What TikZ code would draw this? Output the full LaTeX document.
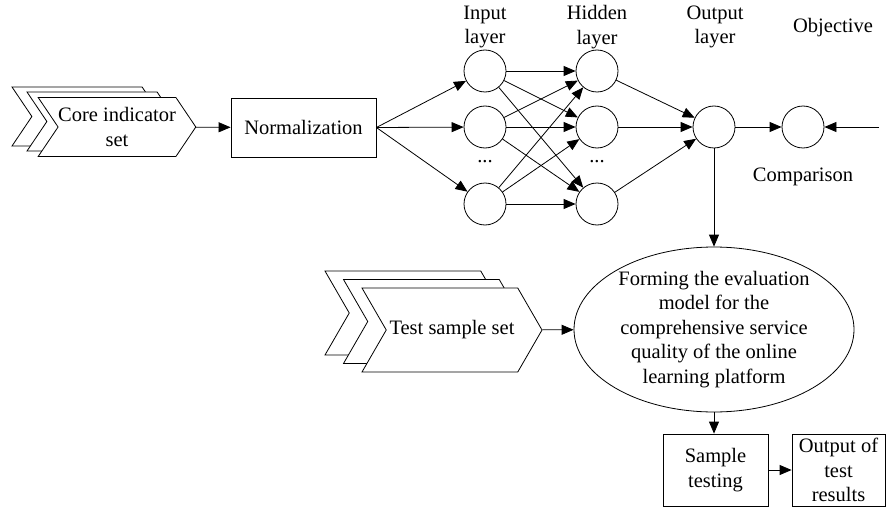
\documentclass[tikz,border=0pt]{standalone}
\usepackage{fontspec}
\setmainfont{Liberation Serif}
\usetikzlibrary{arrows.meta,shapes.symbols,shapes.geometric,positioning}
\tikzset{every picture/.style={>={Triangle[length=12pt,width=10pt]}}}

\begin{document}
\begin{tikzpicture}[
    x=1pt, y=-1pt,
    line width=0.8pt,
    every node/.style={font=\fontsize{20.5}{24.5}\selectfont},
    neuron/.style={circle, draw, minimum size=42pt, inner sep=0pt},
    chevron/.style={signal, signal from=west, signal to=east,
        signal pointer angle=120, draw, fill=white, inner sep=0pt},
    stepbox/.style={draw, align=center, inner sep=0pt}
]
\useasboundingbox (0,0) rectangle (888,508);

% ------------------------------------------------------------
% Input data and preprocessing
% ------------------------------------------------------------

% stacked indicator sheets
\node[chevron, signal pointer angle=112, minimum width=150pt, minimum height=59pt] (core3) at (87,116.5) {};
\node[chevron, signal pointer angle=112, minimum width=150pt, minimum height=59pt] (core2) at (102,121.5) {};
\node[chevron, signal pointer angle=112, minimum width=150pt, minimum height=59pt, align=center] (core) at (117,127) {Core indicator\\set};

\node[stepbox, minimum width=145pt, minimum height=59pt] (norm) at (303.5,127.5) {Normalization};

\draw[->] (core) -- (norm);

% ------------------------------------------------------------
% Network
% ------------------------------------------------------------

\node[neuron] (in1) at (485,71) {};
\node[neuron] (in2) at (485,127) {};
\node[neuron] (in3) at (485,204) {};
\node[neuron] (hid1) at (597,71) {};
\node[neuron] (hid2) at (597,127) {};
\node[neuron] (hid3) at (597,204) {};
\node[neuron] (out) at (714,127) {};
\node[neuron] (obj) at (803,127) {};

\node (dotsin) at (485,162) {...};
\node (dotshid) at (597,162) {...};

% layer titles
\node[align=center] (inlab) at (485,27) {Input\\layer};
\node[align=center] (hidlab) at (597,27) {Hidden\\layer};
\node[align=center] (outlab) at (715,27) {Output\\layer};
\node (objlab) at (833,28) {Objective};
\node (cmplab) at (803,177) {Comparison};

\foreach \i in {1,2,3}
  \draw[->] (norm.east) -- (in\i);

\foreach \i in {1,2,3}
  \foreach \j in {1,2,3}
    \draw[->] (in\i) -- (hid\j);

\foreach \j in {1,2,3}
  \draw[->] (hid\j) -- (out);

\draw[->] (out) -- (obj);
\coordinate (target) at (879,127);
\draw[->] (target) -- (obj);

% ------------------------------------------------------------
% Model and testing
% ------------------------------------------------------------

\node[ellipse, draw, minimum width=280pt, minimum height=157pt, inner sep=0pt, align=center] (model) at (714,329.5)
  {Forming the evaluation\\model for the\\comprehensive service\\quality of the online\\learning platform};

\draw[->] (out) -- (model);

% stacked test sheets
\node[chevron, minimum width=180pt, minimum height=84pt] (test3) at (415,313) {};
\node[chevron, minimum width=180pt, minimum height=84pt] (test2) at (433.5,321.5) {};
\node[chevron, minimum width=180pt, minimum height=84pt] (test) at (452,330) {Test sample set};

\draw[->] (test) -- (model);

\node[stepbox, minimum width=105pt, minimum height=72pt] (sample) at (715.5,470) {Sample\\testing};
\node[stepbox, minimum width=93pt, minimum height=72pt] (result) at (838.5,470) {Output of\\test\\results};

\draw[->] (model) -- (model.south |- sample.north);
\draw[->] (sample) -- (result);

\end{tikzpicture}
\end{document}
